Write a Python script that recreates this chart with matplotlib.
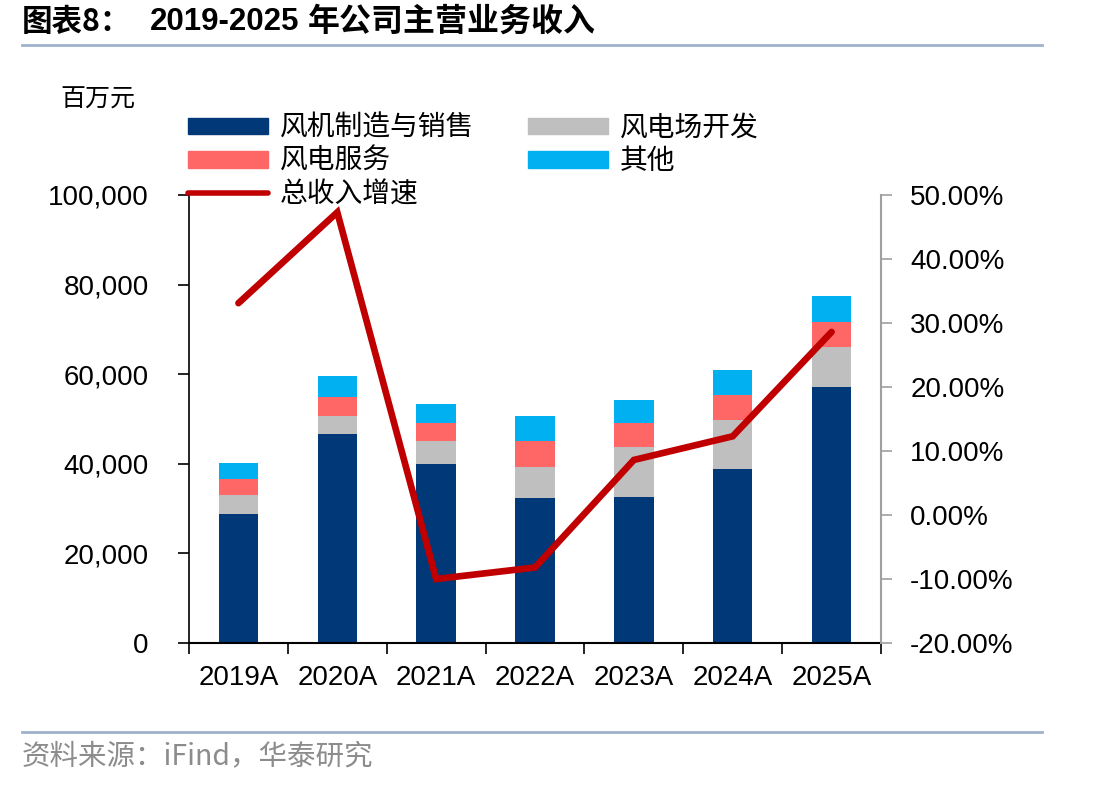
import matplotlib
matplotlib.use("Agg")
import matplotlib.pyplot as plt
from matplotlib.patches import Patch
from matplotlib.lines import Line2D
from matplotlib.ticker import FuncFormatter, FixedLocator
import numpy as np

plt.rcParams['font.family'] = ['Liberation Sans', 'Noto Sans CJK SC']

years = ["2019A", "2020A", "2021A", "2022A", "2023A", "2024A", "2025A"]
turbine = [28750, 46570, 39850, 32460, 32690, 38820, 57090]
windfarm = [4320, 4030, 5310, 6880, 11130, 10880, 8890]
service = [3520, 4410, 4030, 5750, 5210, 5600, 5600]
other = [3640, 4480, 4190, 5670, 5240, 5530, 5820]
growth = [33.1, 47.3, -10.0, -8.2, 8.6, 12.3, 28.6]

names = ["风机制造与销售", "风电场开发", "风电服务", "其他", "总收入增速"]
colors = ["#003878", "#BFBFBF", "#FF6666", "#00B0F0"]
line_color = "#C00000"

fig = plt.figure(figsize=(11.01, 7.86), dpi=100)
ax = fig.add_axes([189/1101, 1-643/786, (881-189)/1101, (643-195)/786])

x = np.arange(len(years))
w = 0.4
bottom = np.zeros(len(years))
for vals, c in zip([turbine, windfarm, service, other], colors):
    ax.bar(x, vals, w, bottom=bottom, color=c, zorder=2)
    bottom += np.array(vals)

ax.set_xlim(-0.5, len(years) - 0.5)
ax.set_ylim(0, 100000)
ax.set_yticks(np.arange(0, 100001, 20000))
ax.yaxis.set_major_formatter(FuncFormatter(lambda v, p: f"{v:,.0f}"))
ax.set_xticks(x)
ax.set_xticklabels(years)
ax.xaxis.set_minor_locator(FixedLocator(np.arange(-0.5, len(years), 1.0)))
ax.tick_params(axis='x', which='major', length=0, pad=16, labelsize=20)
ax.tick_params(axis='x', which='minor', length=8, width=1.2, direction='out')
ax.tick_params(axis='y', length=8, width=1.2, direction='out', pad=21, labelsize=20)
for s in ['top', 'right']:
    ax.spines[s].set_visible(False)
ax.spines['left'].set_linewidth(1.2)
ax.spines['bottom'].set_linewidth(1.5)

ax2 = ax.twinx()
ax2.plot(x, growth, color=line_color, lw=4.8, solid_capstyle='round', solid_joinstyle='miter', zorder=5)
ax2.set_ylim(-20, 50)
ax2.set_yticks(np.arange(-20, 51, 10))
ax2.yaxis.set_major_formatter(FuncFormatter(lambda v, p: f"{v:.2f}%"))
ax2.tick_params(axis='y', length=8, width=1.2, direction='out', color='#A0A0A0', pad=13, labelsize=20)
for s in ['top', 'left', 'bottom']:
    ax2.spines[s].set_visible(False)
ax2.spines['right'].set_color('#A0A0A0')
ax2.spines['right'].set_linewidth(1.5)

handles = [Patch(color=colors[0]), Patch(color=colors[2]),
           Line2D([0], [0], color=line_color, lw=4, solid_capstyle='round'),
           Patch(color=colors[1]), Patch(color=colors[3])]
labels = [names[0], names[2], names[4], names[1], names[3]]
leg = fig.legend(handles, labels, ncol=2, loc='upper left',
                 bbox_to_anchor=(188/1101, 1-113/786), frameon=False,
                 prop={'family': ['Noto Sans CJK SC'], 'size': 20},
                 handlelength=2.88, handleheight=0.54, handletextpad=0.43,
                 columnspacing=1.94, labelspacing=0.11, borderpad=0, borderaxespad=0)

fig.text(60/1101, 1-100/786, "百万元", fontsize=18, family=['Noto Sans CJK SC'], va='center', ha='left')

fig.text(22/1101, 1-22/786, "图表8：", fontsize=22, fontweight='bold',
         va='center', ha='left', family=['Noto Sans CJK SC'])
fig.text(150/1101, 1-22/786, "2019-2025", fontsize=22.5, fontweight='bold',
         va='center', ha='left', family=['Liberation Sans'])
fig.text(308/1101, 1-22/786, "年公司主营业务收入", fontsize=23, fontweight='bold',
         va='center', ha='left', family=['Noto Sans CJK SC'])
fig.add_artist(Line2D([22/1101, 1042/1101], [1-45/786, 1-45/786], color='#9FB2CB', lw=2))
fig.add_artist(Line2D([22/1101, 1042/1101], [1-732/786, 1-732/786], color='#9FB2CB', lw=2))
fig.text(22/1101, 1-756/786, "资料来源：iFind，华泰研究", fontsize=20.5, color='#8C8C8C',
         va='center', ha='left', family=['Noto Sans CJK SC', 'Liberation Sans'])

fig.savefig("out.png", dpi=100)
